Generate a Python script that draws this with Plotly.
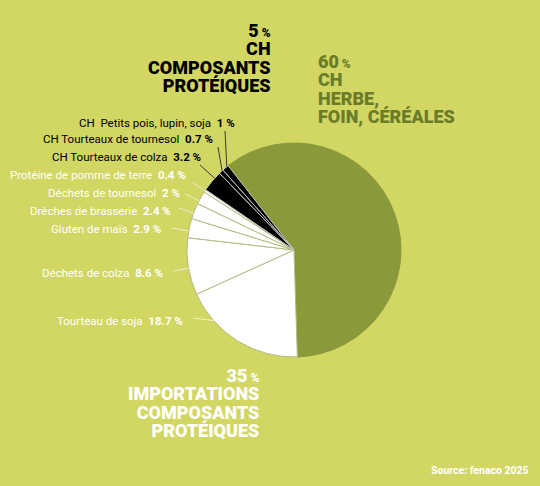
"""Swiss feed protein sources, fenaco 2025, as a single pie with side labels."""

import math

import plotly.graph_objects as go


W, H = 540, 486

# slice data, drawn clockwise starting with the grass/hay/cereal share
slice_names = [
    "CH Herbe, foin, céréales",
    "Tourteau de soja",
    "Déchets de colza",
    "Gluten de maïs",
    "Drèches de brasserie",
    "Déchets de tournesol",
    "Protéine de pomme de terre",
    "CH Tourteaux de colza",
    "CH Tourteaux de tournesol",
    "CH\u00a0 Petits pois, lupin, soja",
]
slice_values = [60, 18.7, 8.6, 2.9, 2.4, 2, 0.4, 3.2, 0.7, 1]
slice_group = ["herbe", "import", "import", "import", "import", "import", "import", "ch", "ch", "ch"]

group_share = {"ch": 5, "herbe": 60, "import": 35}
group_lines = {
    "ch": ["CH", "COMPOSANTS", "PROTÉIQUES"],
    "herbe": ["CH", "HERBE,", "FOIN, CÉRÉALES"],
    "import": ["IMPORTATIONS", "COMPOSANTS", "PROTÉIQUES"],
}
source_text = "Source: fenaco 2025"

BG = "#d2d663"
OLIVE = "#8a9a3b"
OLIVE_TEXT = "#6b7c28"
SLICE_COLOR = {"herbe": OLIVE, "import": "#ffffff", "ch": "#000000"}
EDGE_COLOR = {"herbe": OLIVE, "import": "#b4b982", "ch": "#c8c8c8"}

# pie geometry in pixels
CX, CY, R = 294, 250, 107
START_DEG = -38

# label text right end (x, y) and leader line start, pixels; None for the big slice
label_pos = [
    None,
    (185, 321, 193, 318),
    (165, 273, 173, 271),
    (163, 229, 172, 228),
    (173, 211, 179, 208),
    (182, 193, 185, 194),
    (188, 175, 193, 183),
    (203, 157, 200, 165),
    (215, 139, 218, 147),
    (237, 123, 225, 131),
]

FONT = "Roboto, Lato, sans-serif"
TITLE_FONT = "Roboto, sans-serif"
TITLE_SIZE = 18
LINE_GAP = 18.3  # px between title lines


def fx(x: float) -> float:
    return x / W


def fy(y: float) -> float:
    return 1 - y / H


def slice_ranges(values: list[float], start: float) -> list[tuple[float, float]]:
    total = sum(values)
    ranges = []
    a = start
    for v in values:
        b = a + 360 * v / total
        ranges.append((a, b))
        a = b
    return ranges


def edge_point(x0: float, y0: float, a0: float, a1: float) -> tuple[float, float]:
    """Point on the pie edge facing (x0, y0), kept inside the slice [a0, a1]."""
    theta = math.degrees(math.atan2(x0 - CX, -(y0 - CY)))
    mid = (a0 + a1) / 2
    while theta - mid > 180:
        theta -= 360
    while theta - mid < -180:
        theta += 360
    inset = (a1 - a0) * 0.25
    theta = min(max(theta, a0 + inset), a1 - inset)
    t = math.radians(theta)
    return CX + R * math.sin(t), CY - R * math.cos(t)


fig = go.Figure(
    go.Pie(
        labels=slice_names,
        values=slice_values,
        sort=False,
        direction="clockwise",
        rotation=START_DEG,
        textinfo="none",
        hoverinfo="label+value",
        marker=dict(
            colors=[SLICE_COLOR[g] for g in slice_group],
            line=dict(color=[EDGE_COLOR[g] for g in slice_group], width=1),
        ),
        domain=dict(x=[fx(CX - R), fx(CX + R)], y=[fy(CY + R), fy(CY - R)]),
        showlegend=False,
    )
)

annotations = []
shapes = []

ranges = slice_ranges(slice_values, START_DEG)
for name, value, group, pos, (a0, a1) in zip(slice_names, slice_values, slice_group, label_pos, ranges):
    if pos is None:
        continue
    tx, ty, lx, ly = pos
    color = "#ffffff" if group == "import" else "#000000"
    annotations.append(
        dict(
            x=fx(tx), y=fy(ty), xref="paper", yref="paper",
            xanchor="right", yanchor="middle", showarrow=False,
            text=f"{name}  <b>{value:g} %</b>",
            font=dict(family=FONT, size=11.5, color=color),
        )
    )
    ex, ey = edge_point(lx, ly, a0, a1)
    shapes.append(
        dict(
            type="line", xref="paper", yref="paper",
            x0=fx(lx), y0=fy(ly), x1=fx(ex), y1=fy(ey),
            line=dict(color="#eef0cf" if group == "import" else "#3a3a3a", width=1),
        )
    )


def add_title(group: str, x: float, y_mid: float, anchor: str, color: str) -> None:
    # the annotation font sets the line pitch, each line carries the glyph size
    big = f"<span style='font-size:{TITLE_SIZE}px;font-weight:900'>{{}}</span>"
    share = big.format(group_share[group]) + "<span style='font-size:12px;font-weight:900'> %</span>"
    rows = [share] + [big.format(t) for t in group_lines[group]]
    annotations.append(
        dict(
            x=fx(x), y=fy(y_mid), xref="paper", yref="paper",
            xanchor=anchor, yanchor="middle", align=anchor, showarrow=False,
            text="<br>".join(rows),
            font=dict(family=TITLE_FONT, size=LINE_GAP / 1.3, color=color, weight=900),
        )
    )


add_title("ch", 273, 58.5, "right", "#000000")
add_title("herbe", 316, 89.5, "left", OLIVE_TEXT)
add_title("import", 261, 402.5, "right", "#ffffff")

annotations.append(
    dict(
        x=fx(531), y=fy(470), xref="paper", yref="paper",
        xanchor="right", yanchor="middle", showarrow=False,
        text=f"<b>{source_text}</b>",
        font=dict(family="Roboto, sans-serif", size=10.5, color="#ffffff"),
    )
)

fig.update_layout(
    width=W,
    height=H,
    margin=dict(l=0, r=0, t=0, b=0),
    paper_bgcolor=BG,
    plot_bgcolor=BG,
    annotations=annotations,
    shapes=shapes,
)

fig.write_html(
    "out.html",
    config={"displayModeBar": False},
    post_script="document.body.style.margin = '0';",
)
